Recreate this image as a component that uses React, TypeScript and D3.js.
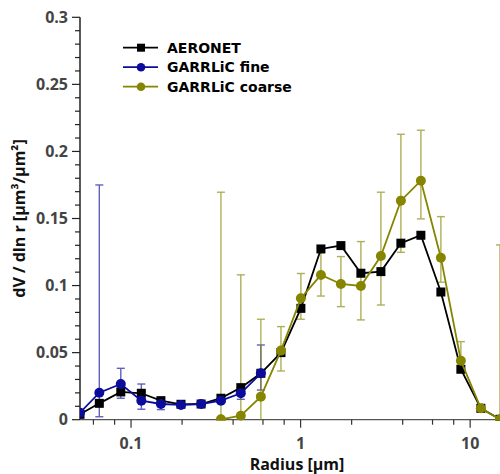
import React from "react";
import * as d3 from "d3";

const radii = [0.05, 0.065, 0.087, 0.115, 0.150, 0.197, 0.259, 0.339, 0.444, 0.583, 0.766, 1.004, 1.318, 1.729, 2.268, 2.976, 3.904, 5.122, 6.720, 8.817, 11.566, 15.0];

const aeronet = [0.004, 0.0122, 0.0207, 0.0197, 0.0142, 0.0115, 0.0117, 0.016, 0.0239, 0.0346, 0.05, 0.083, 0.1273, 0.1298, 0.1092, 0.1104, 0.1316, 0.1375, 0.0952, 0.0376, 0.0085, 0.0003];

// GARRLiC fine: indices 0..9
const fineVals = [0.0052, 0.0201, 0.0266, 0.0142, 0.0117, 0.011, 0.0117, 0.0142, 0.0197, 0.0346];
const fineLow = [null, 0.0022, 0.016, 0.0078, 0.0075, 0.0095, 0.0105, 0.0125, 0.0152, 0.0221];
const fineHigh = [null, 0.175, 0.0383, 0.0266, 0.016, 0.0125, 0.013, 0.016, 0.0234, 0.0557];

// GARRLiC coarse: indices 7..21
const coarseStart = 7;
const coarseVals = [0.0003, 0.003, 0.0172, 0.0515, 0.0905, 0.1079, 0.1012, 0.0997, 0.122, 0.1633, 0.1782, 0.1208, 0.044, 0.0085, 0.0003];
const coarseLow = [0, 0, 0, 0.0363, 0.0749, 0.0922, 0.0843, 0.0744, 0.0855, 0.1248, 0.1497, 0.1025, 0.036, null, 0];
const coarseHigh = [0.1696, 0.108, 0.0749, 0.0694, 0.109, 0.128, 0.1216, 0.1328, 0.1696, 0.2128, 0.2158, 0.1514, 0.0582, null, 0.1303];

const yTicks = [0, 0.05, 0.1, 0.15, 0.2, 0.25, 0.3];
const yTickLabels = ["0", "0.05", "0.1", "0.15", "0.2", "0.25", "0.3"];
const xMajor = [0.1, 1, 10];
const xMajorLabels = ["0.1", "1", "10"];
const xMinor = [0.06, 0.08, 0.2, 0.4, 0.6, 0.8, 2, 4, 6, 8];

const seriesNames = ["AERONET", "GARRLiC fine", "GARRLiC coarse"];
const BLACK = "#000000";
const BLUE = "#0c0c9c";
const OLIVE = "#858500";

export default function App() {
  const left = 80, right = 500, top = 17.3, bottom = 419.7;
  const x = d3.scaleLog().domain([0.05, 15]).range([left, right]);
  const y = d3.scaleLinear().domain([0, 0.3]).range([bottom, top]);
  const line = d3.line<[number, number]>().x(d => x(d[0])).y(d => y(d[1]));

  const aerPts: [number, number][] = radii.map((r, i) => [r, aeronet[i]]);
  const finePts: [number, number][] = fineVals.map((v, i) => [radii[i], v]);
  const coarsePts: [number, number][] = coarseVals.map((v, i) => [radii[i + coarseStart], v]);

  const minorY = d3.range(0, 0.3001, 0.01);
  const font = "'Open Sans', 'DejaVu Sans', sans-serif";

  const errBar = (r: number, lo: number | null, hi: number | null, color: string, key: string) => {
    if (lo == null || hi == null) return null;
    const cx = x(r);
    const y1 = y(Math.max(0, lo));
    const y2 = y(hi);
    return (
      <g key={key} stroke={color} strokeWidth={1.4} opacity={0.65}>
        <line x1={cx} x2={cx} y1={y1} y2={y2} />
        <line x1={cx - 4} x2={cx + 4} y1={y2} y2={y2} />
        {lo > 0.0005 ? <line x1={cx - 4} x2={cx + 4} y1={y1} y2={y1} /> : null}
      </g>
    );
  };

  const legendRows = [
    { name: seriesNames[0], color: BLACK, shape: "square" },
    { name: seriesNames[1], color: BLUE, shape: "circle" },
    { name: seriesNames[2], color: OLIVE, shape: "circle" },
  ];
  const legendY = [47.7, 67.2, 86.7];

  return (
    <svg width={500} height={474} style={{ position: "absolute", left: 0, top: 0, background: "#fff" }} fontFamily={font}>
      <defs>
        <clipPath id="plotclip">
          <rect x={left} y={0} width={right - left + 2} height={bottom + 1} />
        </clipPath>
      </defs>
      {/* y axis */}
      <line x1={left} x2={left} y1={top} y2={bottom} stroke="#222" strokeWidth={1.5} />
      {minorY.map((v, i) => (
        <line key={"ym" + i} x1={left - (i % 5 === 0 ? 8 : 5)} x2={left} y1={y(v)} y2={y(v)} stroke="#222" strokeWidth={1.2} />
      ))}
      {yTicks.map((v, i) => (
        <text key={"yt" + i} x={left - 12} y={y(v)} dy="0.36em" textAnchor="end" fontSize={16} fontWeight="bold" fill="#444">{yTickLabels[i]}</text>
      ))}
      {/* x axis */}
      <line x1={left} x2={right} y1={bottom} y2={bottom} stroke="#555" strokeWidth={1.2} />
      {xMajor.map((v, i) => (
        <g key={"xM" + i}>
          <line x1={x(v)} x2={x(v)} y1={bottom} y2={bottom + 8} stroke="#333" strokeWidth={1.2} />
          <text x={x(v)} y={449} textAnchor="middle" fontSize={16} fontWeight="bold" fill="#444">{xMajorLabels[i]}</text>
        </g>
      ))}
      {xMinor.map((v, i) => (
        <line key={"xm" + i} x1={x(v)} x2={x(v)} y1={bottom} y2={bottom + 5} stroke="#333" strokeWidth={1.2} />
      ))}
      <text x={297} y={470} textAnchor="middle" fontSize={16} fontWeight="bold" fill="#111">Radius [µm]</text>
      <text transform={`translate(25,${(top + bottom) / 2}) rotate(-90)`} textAnchor="middle" fontSize={16} fontWeight="bold" fill="#111">dV / dln r [µm³/µm²]</text>

      <g clipPath="url(#plotclip)">
        {/* error bars */}
        {fineVals.map((v, i) => errBar(radii[i], fineLow[i], fineHigh[i], BLUE, "fe" + i))}
        {coarseVals.map((v, i) => errBar(radii[i + coarseStart], coarseLow[i], coarseHigh[i], OLIVE, "ce" + i))}
        {/* lines */}
        <path d={line(aerPts) || ""} fill="none" stroke={BLACK} strokeWidth={1.8} />
        {aerPts.map((p, i) => (
          <rect key={"as" + i} x={x(p[0]) - 4.5} y={y(p[1]) - 4.5} width={9} height={9} fill={BLACK} />
        ))}
        <path d={line(coarsePts) || ""} fill="none" stroke={OLIVE} strokeWidth={1.8} />
        {coarsePts.map((p, i) => (
          <circle key={"cc" + i} cx={x(p[0])} cy={y(p[1])} r={5} fill={OLIVE} />
        ))}
        <path d={line(finePts) || ""} fill="none" stroke={BLUE} strokeWidth={1.8} />
        {finePts.map((p, i) => (
          <circle key={"fc" + i} cx={x(p[0])} cy={y(p[1])} r={5} fill={BLUE} />
        ))}
      </g>

      {/* legend */}
      {legendRows.map((row, i) => (
        <g key={"lg" + i}>
          <line x1={123} x2={158} y1={legendY[i]} y2={legendY[i]} stroke={row.color} strokeWidth={1.8} />
          {row.shape === "square"
            ? <rect x={141 - 4} y={legendY[i] - 4} width={8} height={8} fill={row.color} />
            : <circle cx={141} cy={legendY[i]} r={4.3} fill={row.color} />}
          <text x={167} y={legendY[i]} dy="0.36em" fontSize={14} fontFamily="'DejaVu Sans', sans-serif" fontWeight="bold" fill="#000">{row.name}</text>
        </g>
      ))}
    </svg>
  );
}
